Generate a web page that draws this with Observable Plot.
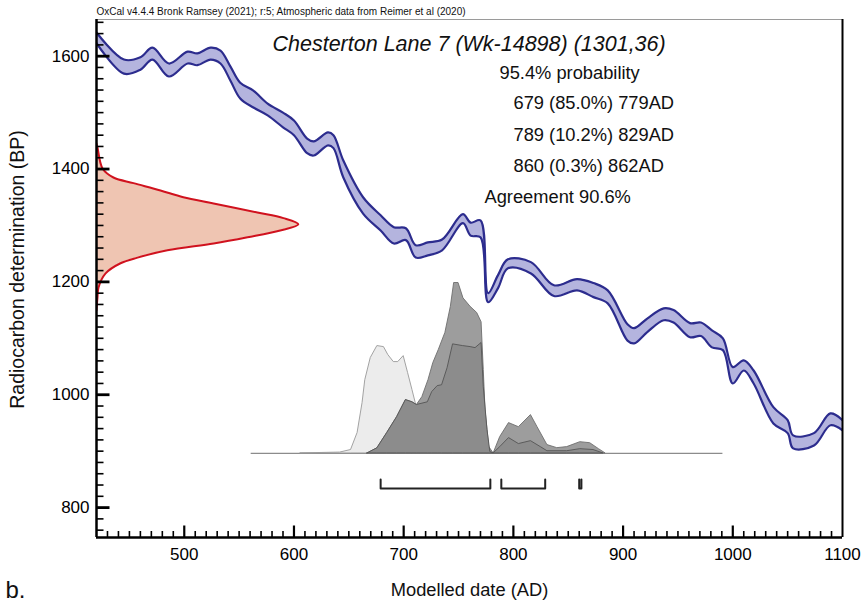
<!DOCTYPE html>
<html><head><meta charset="utf-8">
<script src="https://cdn.jsdelivr.net/npm/d3@7"></script>
<script src="https://cdn.jsdelivr.net/npm/@observablehq/plot@0.6"></script>
<style>body{margin:0;background:#fff}</style>
</head><body><div id="chart"></div>
<script>
// ---- texts ----
const headerText = "OxCal v4.4.4 Bronk Ramsey (2021); r:5; Atmospheric data from Reimer et al (2020)";
const sampleTitle = "Chesterton Lane 7 (Wk-14898) (1301,36)";
const probabilityLabel = "95.4% probability";
const rangeFrom = [679, 789, 860];
const rangeTo = [779, 829, 862];
const rangePct = ["85.0", "10.2", "0.3"];
const agreementLabel = "Agreement 90.6%";
const xLabel = "Modelled date (AD)";
const yLabel = "Radiocarbon determination (BP)";
const panelLabel = "b.";
const xTicks = [500, 600, 700, 800, 900, 1000, 1100];
const yTicks = [800, 1000, 1200, 1400, 1600];

// ---- calibration curve (IntCal20), 1-sigma envelope in BP ----
const curveAD = [420,445,460,471,486,503,512,524,533,542,551,563,576,590,600,612,618,631,636,645,663,679,691,702,711,722,735,754,761,770,777,786,795,816,837,858,873,886,904,910,922,937,946,961,971,981,991,1000,1010,1019,1037,1050,1055,1074,1089,1100];
const curveHigh = [1642,1594,1598,1615,1587,1608,1605,1615,1610,1582,1553,1539,1516,1500,1486,1454,1449,1465,1460,1415,1350,1318,1297,1295,1265,1270,1275,1320,1305,1309,1180,1212,1240,1235,1194,1205,1198,1185,1125,1118,1135,1153,1150,1127,1128,1114,1100,1049,1061,1043,978,955,928,932,967,955];
const curveLow = [1623,1569,1576,1594,1564,1587,1584,1594,1587,1557,1525,1509,1495,1474,1460,1428,1424,1442,1437,1385,1321,1291,1268,1274,1243,1247,1256,1304,1282,1279,1164,1189,1224,1215,1175,1185,1173,1162,1096,1091,1111,1132,1128,1102,1104,1084,1079,1020,1043,1020,949,932,905,910,946,937];

// ---- radiocarbon measurement 1301±36 BP (relative density) ----
const measBP = [1445,1438,1401,1385,1375,1362,1350,1339,1323,1313,1302,1291,1279,1268,1256,1243,1233,1215,1190,1173,1150];
const measDensity = [0,0.005,0.03,0.084,0.183,0.317,0.43,0.58,0.797,0.926,1.0,0.91,0.748,0.58,0.351,0.203,0.119,0.045,0.01,0.005,0];

// ---- unmodelled (light) distribution ----
const priorAD = [606,642,652,658,662.5,665,670,676,682,686,691,695,700,704,708,711,715,724,734];
const priorP = [0,0.005,0.02,0.12,0.295,0.43,0.56,0.63,0.624,0.577,0.536,0.536,0.571,0.472,0.372,0.295,0.166,0.049,0];

// ---- modelled distributions ----
const outerAD = [667,676,685,694,702,708,712,717,722.6,727,732,738,743,746,750,754.5,761,767,771,773,774.6,778,782,788,796,805,816,822,831,840,849,861,870,878,884];
const outerP = [0,0.03,0.12,0.213,0.313,0.30,0.284,0.33,0.43,0.53,0.607,0.707,0.86,1,1,0.91,0.86,0.824,0.77,0.49,0.254,0.037,0,0.096,0.178,0.154,0.225,0.154,0.049,0.031,0.037,0.066,0.06,0.025,0];
const innerAD = [667,676,685,694,702,708,712,722,726,731,735,740,745,754,761,765.5,771,773,776.4,779,782,788,796,805,816,825,831,849,861,873,882];
const innerP = [0,0.03,0.12,0.213,0.313,0.30,0.284,0.30,0.36,0.395,0.40,0.50,0.64,0.63,0.624,0.618,0.648,0.39,0.137,0.008,0,0.037,0.09,0.055,0.072,0.037,0.013,0.013,0.025,0.02,0];

// ---- layout constants ----
const xDomain = [420, 1100];
const yDomain = [747, 1665];
const distBase = 896, distScale = 302;      // BP baseline and height of posterior plot
const measScale = 184;                      // years width of measurement peak
const bracketTop = 850, bracketBase = 834;  // BP position of range brackets
const baselineSpan = [561, 991];
const W = 865, H = 602, mT = 19, mL = 96, mR = 23, mB = 65;
const innerW = W - mL - mR, innerH = H - mT - mB;
const yearsPerPx = (xDomain[1] - xDomain[0]) / innerW;
const bpPerPx = (yDomain[1] - yDomain[0]) / innerH;

const curve = curveAD.map((ad, i) => ({ad, hi: curveHigh[i], lo: curveLow[i]}));
const meas = measBP.map((bp, i) => ({bp, p: measDensity[i]}));
const prior = priorAD.map((ad, i) => ({ad, p: priorP[i]}));
const outer = outerAD.map((ad, i) => ({ad, p: outerP[i]}));
const inner = innerAD.map((ad, i) => ({ad, p: innerP[i]}));
const brackets = rangeFrom.flatMap((f, i) => [
  {k: i, ad: f, bp: bracketTop}, {k: i, ad: f, bp: bracketBase},
  {k: i, ad: rangeTo[i], bp: bracketBase}, {k: i, ad: rangeTo[i], bp: bracketTop}
]);
const rangeLines = rangeFrom.map((f, i) => `${f} (${rangePct[i]}%) ${rangeTo[i]}AD`);
const xMajor = xTicks.filter(v => v < xDomain[1]);
const xMinor = d3.range(430, 1100, 10).filter(v => v % 100 !== 0);
const yMinor = d3.range(760, 1665, 20).filter(v => v % 200 !== 0);
const fmt = d3.format("d");
const font = "'Liberation Sans', Arial, sans-serif";

const xTickSegs = [...xMajor.map(v => ({v, len: 12, w: 2.2})), ...xMinor.map(v => ({v, len: 6.5, w: 1.6}))];
const yTickSegs = [...yTicks.map(v => ({v, len: 13, w: 2.8})), ...yMinor.map(v => ({v, len: 7, w: 1.6}))];

const txt = (s, dx, dy, o = {}) => Plot.text([s], {text: d => d, frameAnchor: "top-left", dx, dy,
  textAnchor: "start", lineAnchor: "middle", fontSize: 18.3, fill: "#111", ...o});

const chart = Plot.plot({
  width: W, height: H,
  marginTop: mT, marginLeft: mL, marginRight: mR, marginBottom: mB,
  style: {fontFamily: font, fontSize: "17px"},
  x: {domain: xDomain},
  y: {domain: yDomain},
  marks: [
    // measurement
    Plot.areaX(meas, {y: "bp", x1: () => xDomain[0], x2: d => xDomain[0] + d.p * measScale, fill: "#efc5b2", curve: "catmull-rom", clip: true}),
    Plot.lineX(meas, {y: "bp", x: d => xDomain[0] + d.p * measScale, stroke: "#d0121e", strokeWidth: 2, curve: "catmull-rom", clip: true}),
    // calibration curve
    Plot.areaY(curve, {x: "ad", y1: "lo", y2: "hi", fill: "#b4b4de", curve: "catmull-rom", clip: true}),
    Plot.line(curve, {x: "ad", y: "hi", stroke: "#2c2c8e", strokeWidth: 2.2, curve: "catmull-rom", clip: true}),
    Plot.line(curve, {x: "ad", y: "lo", stroke: "#2c2c8e", strokeWidth: 2.2, curve: "catmull-rom", clip: true}),
    // distributions
    Plot.ruleY([distBase], {x1: baselineSpan[0], x2: baselineSpan[1], stroke: "#8c8c8c", strokeWidth: 1.2}),
    Plot.areaY(prior, {x: "ad", y1: distBase, y2: d => distBase + d.p * distScale, fill: "#ececec", stroke: "#999", strokeWidth: 0.9}),
    Plot.areaY(outer, {x: "ad", y1: distBase, y2: d => distBase + d.p * distScale, fill: "#9d9d9d", stroke: "#6e6e6e", strokeWidth: 0.9}),
    Plot.areaY(inner, {x: "ad", y1: distBase, y2: d => distBase + d.p * distScale, fill: "#8c8c8c", stroke: "#555", strokeWidth: 0.9}),
    // range brackets
    Plot.line(brackets, {x: "ad", y: "bp", z: "k", stroke: "#222", strokeWidth: 2}),
    // axis labels
    Plot.axisX({ticks: xTicks, tickSize: 0, tickPadding: 10, tickFormat: fmt, label: null}),
    Plot.axisY({ticks: yTicks, tickSize: 0, tickPadding: 7, tickFormat: fmt, label: null}),
    // frame
    Plot.ruleY([yDomain[1]], {stroke: "#9a9a9a", strokeWidth: 1.2}),
    Plot.ruleX([xDomain[1]], {stroke: "#000", strokeWidth: 2}),
    Plot.ruleX([xDomain[0]], {stroke: "#000", strokeWidth: 2.5}),
    Plot.ruleY([yDomain[0]], {stroke: "#000", strokeWidth: 2.5}),
    // annotations
    txt(headerText, 0, -8, {fontSize: 10}),
    txt(sampleTitle, 176, 25, {fontSize: 21.5, fontStyle: "italic"}),
    txt(probabilityLabel, 403, 54),
    ...rangeLines.map((s, i) => txt(s, 417, 84 + i * 31.5)),
    txt(agreementLabel, 388, 178),
    Plot.text([xLabel], {text: d => d, frameAnchor: "bottom", dy: 53, textAnchor: "middle", lineAnchor: "middle", fontSize: 18.3, fill: "#111"}),
    Plot.text([panelLabel], {text: d => d, frameAnchor: "bottom-left", dx: -91, dy: 53, textAnchor: "start", lineAnchor: "middle", fontSize: 24, fill: "#111"}),
    Plot.text([yLabel], {text: d => d, frameAnchor: "left", dx: -79, dy: -9, rotate: -90, textAnchor: "middle", lineAnchor: "middle", fontSize: 19.5, fill: "#111"}),
    // inward ticks (last, on top)
    Plot.link(xTickSegs, {x1: "v", x2: "v", y1: () => yDomain[0], y2: d => yDomain[0] + d.len * bpPerPx, stroke: "#000", strokeWidth: "w"}),
    Plot.link(yTickSegs, {y1: "v", y2: "v", x1: () => xDomain[0], x2: d => xDomain[0] + d.len * yearsPerPx, stroke: "#000", strokeWidth: "w"})
  ]
});
document.getElementById("chart").appendChild(chart);
</script>
</body></html>
